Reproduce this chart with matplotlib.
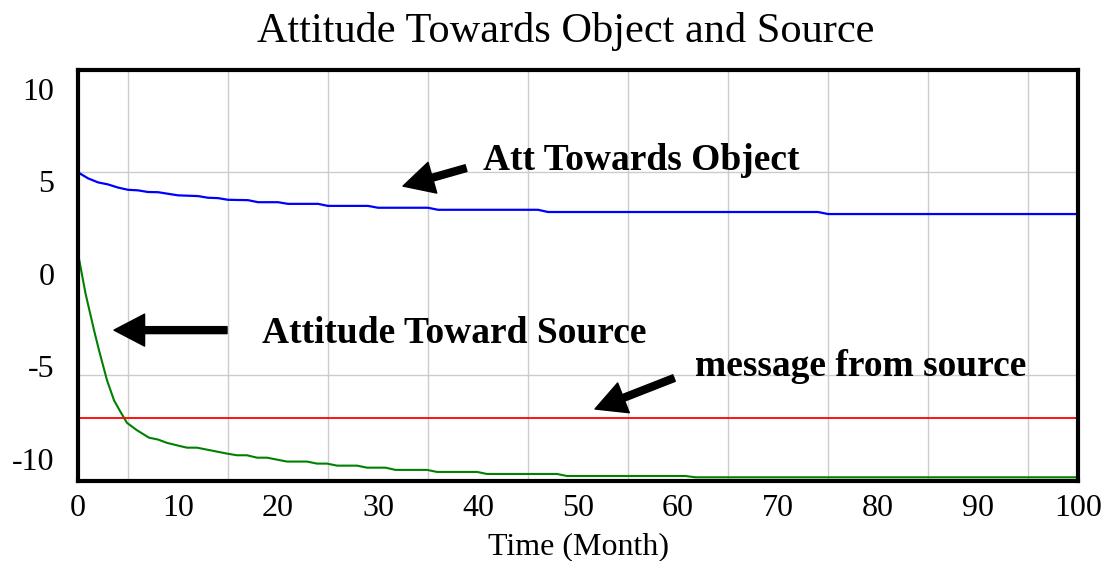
import matplotlib
matplotlib.use("Agg")
import matplotlib.pyplot as plt
from matplotlib.ticker import FixedLocator

# values
obj_months = [0, 1, 2, 3, 4, 5, 6, 7, 8, 10, 12, 13, 14, 15, 17, 18, 20, 21, 24,
              25, 29, 30, 35, 36, 46, 47, 74, 75, 100]
att_object = [5.47, 5.15, 4.93, 4.82, 4.65, 4.53, 4.50, 4.41, 4.40, 4.23, 4.19, 4.10,
              4.08, 3.99, 3.97, 3.86, 3.86, 3.77, 3.77, 3.66, 3.66, 3.56, 3.56, 3.45,
              3.45, 3.33, 3.33, 3.22, 3.22]

src_months = [0, 0.75, 1.6, 2.1, 2.9, 3.6, 4.25, 4.9, 5.9, 7.1, 8.0, 8.9, 10.25, 10.9,
              11.9, 14.9, 15.9, 16.9, 17.9, 18.9, 20.9, 22.9, 23.9, 24.9, 25.9, 27.9,
              28.9, 30.75, 31.75, 34.9, 35.9, 39.9, 40.9, 47.9, 48.9, 60.75, 61.75, 100]
att_source = [1.09, -1.07, -3.05, -4.14, -5.76, -6.84, -7.47, -8.06, -8.46, -8.86,
              -8.96, -9.14, -9.32, -9.40, -9.40, -9.72, -9.81, -9.81, -9.94, -9.94,
              -10.15, -10.15, -10.26, -10.26, -10.37, -10.37, -10.48, -10.48, -10.60,
              -10.60, -10.71, -10.71, -10.82, -10.82, -10.93, -10.93, -11.0, -11.0]

msg_months = [0, 100]
message = [-7.78, -7.78]

x_ticks = [0, 10, 20, 30, 40, 50, 60, 70, 80, 90, 100]
y_ticks = [-10, -5, 0, 5, 10]
y_grid = [-5.5, 0, 5.5]

plt.rcParams["font.family"] = ["Liberation Serif", "DejaVu Serif"]
plt.rcParams["axes.unicode_minus"] = False

fig = plt.figure(figsize=(11.05, 5.61), dpi=100)
ax = fig.add_axes([0.0706, 0.1426, 0.905, 0.7326])

ax.plot(obj_months, att_object, color="#0000ff", linewidth=1.6, zorder=3)
ax.plot(src_months, att_source, color="#008000", linewidth=1.5, zorder=3)
ax.plot(msg_months, message, color="#ff0000", linewidth=1.3, zorder=3)

ax.set_xlim(0, 100)
ax.set_ylim(-11.2, 11)
ax.set_xticks(x_ticks)
ax.set_yticks(y_ticks)
ax.xaxis.set_minor_locator(FixedLocator(range(0, 101, 5)))
ax.yaxis.set_minor_locator(FixedLocator(y_grid))
ax.grid(False)
ax.grid(True, which="minor", color="#cccccc", linewidth=1.0)
ax.tick_params(which="both", length=0, labelsize=23)
ax.tick_params(axis="x", pad=9)
ax.tick_params(axis="y", pad=17)
for sp in ax.spines.values():
    sp.set_linewidth(3)
    sp.set_zorder(4)

ax.set_title("Attitude Towards Object and Source", fontsize=30.5, pad=20, x=0.488)
ax.set_xlabel("Time (Month)", fontsize=23, labelpad=7)

arrow = dict(facecolor="black", edgecolor="black", width=5, headwidth=23,
             headlength=22, shrink=0)
ax.annotate("", xy=(32.5, 4.73), xytext=(38.8, 5.70), arrowprops=arrow)
ax.annotate("", xy=(3.6, -3.05), xytext=(14.9, -3.05), arrowprops=arrow)
ax.annotate("", xy=(51.7, -7.31), xytext=(59.6, -5.64), arrowprops=arrow)

ax.text(40.5, 6.12, "Att Towards Object", fontsize=27, fontweight="bold",
        ha="left", va="center")
ax.text(18.4, -3.25, "Attitude Toward Source", fontsize=27, fontweight="bold",
        ha="left", va="center")
ax.text(61.7, -5.04, "message from source", fontsize=27, fontweight="bold",
        ha="left", va="center")

fig.savefig("out.png", dpi=100)
plt.close(fig)
